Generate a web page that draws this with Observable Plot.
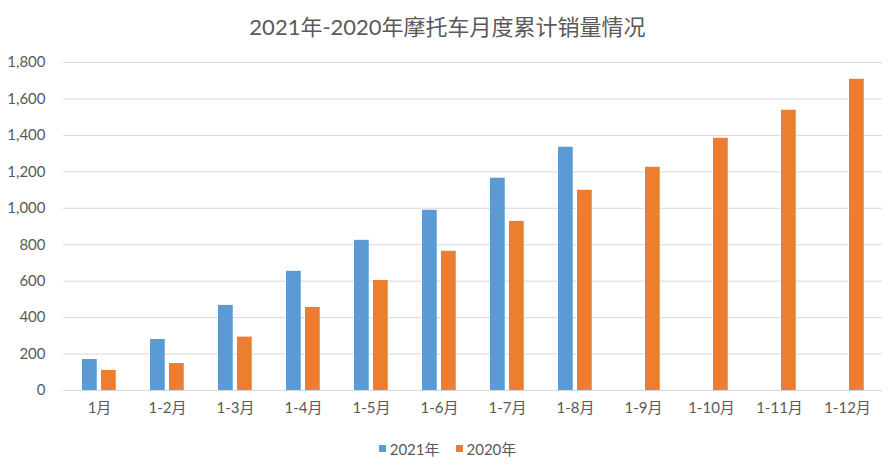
<!DOCTYPE html>
<html><head><meta charset="utf-8">
<script src="https://cdn.jsdelivr.net/npm/d3@7"></script>
<script src="https://cdn.jsdelivr.net/npm/@observablehq/plot@0.6"></script>
<style>
body{margin:0;background:#fff;width:895px;font-family:Lato,"Noto Sans CJK SC",sans-serif;color:#595959;}
#title{height:42px;padding-top:6px;line-height:42px;text-align:center;font-size:22px;}
#legend{height:36px;display:flex;justify-content:center;align-items:center;font-size:15px;gap:16px;}
.sw{display:inline-block;width:7px;height:7px;margin-right:4px;vertical-align:middle;}
.it{display:flex;align-items:center;}
</style></head>
<body>
<div id="title">2021年-2020年摩托车月度累计销量情况</div>
<div id="chart"></div>
<div id="legend"></div>
<script>
const categories = ["1月","1-2月","1-3月","1-4月","1-5月","1-6月","1-7月","1-8月","1-9月","1-10月","1-11月","1-12月"];
const series = ["2021年","2020年"];
const colors = ["#5B9BD5","#ED7D31"];
const values2021 = [170,280,467,654,824,989,1165,1335];
const values2020 = [110,148,293,456,604,764,928,1099,1225,1384,1538,1708];
const yTicks = [0,200,400,600,800,1000,1200,1400,1600,1800];

const data2021 = values2021.map((v,i)=>({cat:categories[i], s:series[0], v}));
const data2020 = values2020.map((v,i)=>({cat:categories[i], s:series[1], v}));

const chart = Plot.plot({
  width: 895,
  height: 382,
  marginTop: 14,
  marginBottom: 40,
  marginLeft: 63,
  marginRight: 13,
  style: {fontFamily: 'Lato,"Noto Sans CJK SC",sans-serif', fontSize: "15px", color: "#595959", background: "#fff"},
  x: {domain: categories, padding: 0, label: null},
  y: {domain: [0,1800], label: null},
  color: {domain: series, range: colors},
  marks: [
    Plot.gridY(yTicks, {stroke: "#d9d9d9", strokeOpacity: 1, strokeWidth: 1}),
    Plot.axisY({ticks: yTicks, tickFormat: d3.format(","), tickSize: 0, tickPadding: 18, fontSize: 15, fill: "#595959", label: null}),
    Plot.axisX({tickSize: 0, tickPadding: 12, fontSize: 15, fill: "#595959", label: null}),
    Plot.barY(data2021, {x: "cat", y: "v", fill: "s", insetLeft: 17, insetRight: 36.25}),
    Plot.barY(data2020, {x: "cat", y: "v", fill: "s", insetLeft: 36, insetRight: 17.25})
  ]
});
document.getElementById("chart").appendChild(chart);

const lg = document.getElementById("legend");
series.forEach((s,i)=>{
  const it = document.createElement("span");
  it.className = "it";
  it.innerHTML = `<span class="sw" style="background:${colors[i]}"></span>${s}`;
  lg.appendChild(it);
});
</script>
</body></html>
